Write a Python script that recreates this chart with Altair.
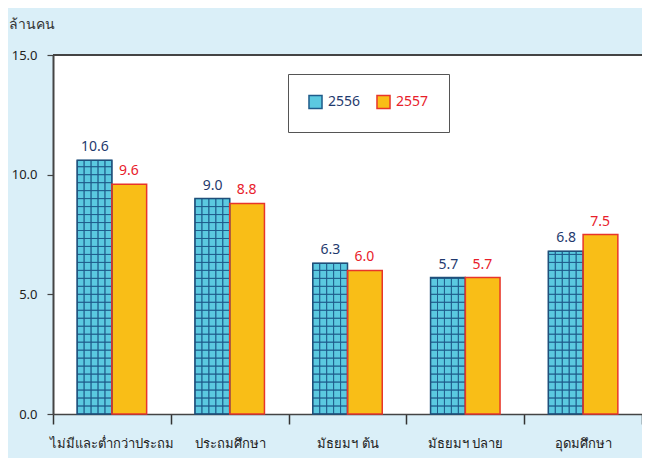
import altair as alt
import pandas as pd

categories = ["ไม่มีและต่ำกว่าประถม", "ประถมศึกษา", "มัธยมฯ ต้น", "มัธยมฯ ปลาย", "อุดมศึกษา"]
series = ["2556", "2557"]
v2556 = [10.6, 9.0, 6.3, 5.7, 6.8]
v2557 = [9.6, 8.8, 6.0, 5.7, 7.5]

rows = []
for c, a, b in zip(categories, v2556, v2557):
    rows.append({"cat": c, "series": "2556", "value": a})
    rows.append({"cat": c, "series": "2557", "value": b})
df = pd.DataFrame(rows)

# grid cells for the patterned 2556 bars (sub-columns d3..d7 of a 16-slot offset scale)
subcols = [f"d{i:02d}" for i in range(16)]
teal_cols = subcols[3:8]
cell = 1 / 3
cells = []
for c, a in zip(categories, v2556):
    k = 0
    while k * cell < a - 1e-9:
        for s in teal_cols:
            cells.append({"cat": c, "sub": s, "y0": k * cell, "y1": min((k + 1) * cell, a)})
        k += 1
cdf = pd.DataFrame(cells)

FONT = "Noto Sans"
xscale = alt.Scale(domain=categories, paddingInner=0, paddingOuter=0)
yscale = alt.Scale(domain=[0, 15], nice=False)
off_series = alt.Scale(domain=series, paddingInner=0, paddingOuter=0.695)
off_sub = alt.Scale(domain=subcols, paddingInner=0, paddingOuter=0.475)

x_axis = alt.Axis(tickBand="extent", ticks=True, labelAngle=0, tickSize=10, labelPadding=13,
                  labelFontSize=13, labelColor="#222", labelFont=FONT, title=None,
                  domainColor="#444", domainWidth=1.5, tickColor="#333", tickWidth=1.5)

bars = alt.Chart(df).mark_bar(strokeWidth=1.5).encode(
    x=alt.X("cat:N", scale=xscale, sort=categories, title=None, axis=x_axis),
    xOffset=alt.XOffset("series:N", scale=off_series),
    y=alt.Y("value:Q", scale=yscale,
            axis=alt.Axis(values=[0, 5, 10, 15], format=".1f", grid=False, tickSize=6,
                          labelPadding=10, labelFontSize=13, labelColor="#222", labelFont=FONT,
                          domainColor="#444", domainWidth=2, tickColor="#444", tickWidth=1.2,
                          title="ล้านคน", titleAngle=0, titleAlign="left", titleX=-45, titleY=-27,
                          titleBaseline="alphabetic", titleFontSize=14, titleFontWeight="normal",
                          titleColor="#333", titleFont=FONT)),
    fill=alt.Fill("series:N", scale=alt.Scale(domain=series, range=["#5bc9e0", "#f9be17"]),
                  legend=alt.Legend(title=None, orient="none", legendX=235, legendY=19,
                                    direction="horizontal", symbolType="square", symbolSize=170,
                                    labelFontSize=14, labelFont=FONT, columnPadding=12,
                                    labelOffset=5, padding=20, strokeColor="#555",
                                    fillColor="white", symbolStrokeWidth=1.5, symbolOpacity=1,
                                    labelColor=alt.ExprRef("datum.value == '2556' ? '#1f3a6e' : '#e8202a'"),
                                    symbolStrokeColor=alt.ExprRef("datum.value == '2556' ? '#1f5b8a' : '#e8352a'"))),
)

grid = alt.Chart(cdf).mark_rect(fillOpacity=0, stroke="#1f5b8a", strokeWidth=0.8).encode(
    x=alt.X("cat:N", scale=xscale, sort=categories, title=None, axis=x_axis),
    xOffset=alt.XOffset("sub:N", scale=off_sub),
    y=alt.Y("y0:Q", scale=yscale),
    y2="y1:Q",
)

outline = alt.Chart(df).mark_bar(fillOpacity=0, strokeWidth=1.5).encode(
    x=alt.X("cat:N", scale=xscale, sort=categories, title=None, axis=x_axis),
    xOffset=alt.XOffset("series:N", scale=off_series),
    y=alt.Y("value:Q", scale=yscale),
    stroke=alt.condition("datum.series == '2556'", alt.value("#1f4f7a"), alt.value("#e8352a")),
)


def label_layer(s, dx, color):
    return alt.Chart(df).transform_filter(f"datum.series == '{s}'").mark_text(
        baseline="bottom", dy=-6, dx=dx, fontSize=14, font=FONT, color=color).encode(
        x=alt.X("cat:N", scale=xscale, sort=categories, title=None, axis=x_axis),
        y=alt.Y("value:Q", scale=yscale),
        text=alt.Text("value:Q", format=".1f"),
    )


labels_a = label_layer("2556", -17, "#1f3a6e")
labels_b = label_layer("2557", 17, "#e8202a")

top = alt.Chart(df).mark_rule(color="#444", strokeWidth=1.5).encode(y=alt.datum(15))

chart = alt.layer(bars, grid, outline, labels_a, labels_b, top).resolve_scale(
    xOffset="independent"
).properties(
    width=589, height=359,
    autosize=alt.AutoSizeParams(type="none"),
    padding={"left": 45, "top": 47, "right": 0, "bottom": 44},
    background="#daeff8",
).configure_view(fill="white", stroke=None)

chart.save("out.html", embed_options={"renderer": "svg", "actions": False})
